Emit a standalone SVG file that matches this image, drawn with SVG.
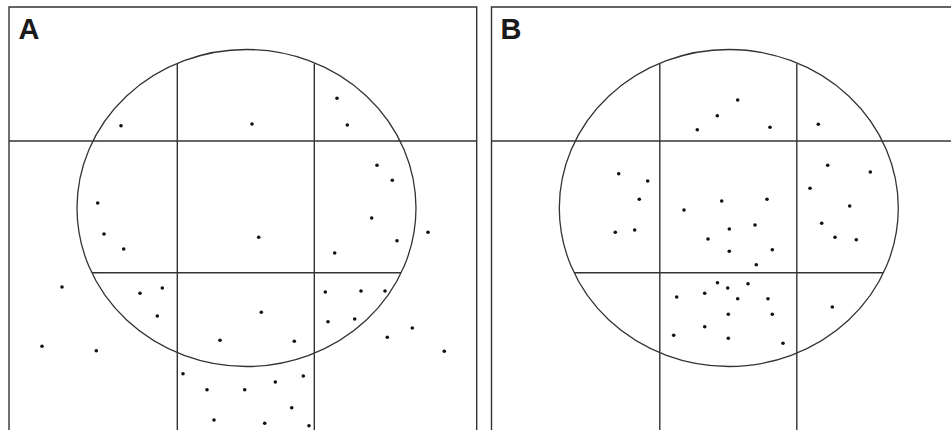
<svg xmlns="http://www.w3.org/2000/svg" width="951" height="430" viewBox="0 0 951 430">
<style>
.ln{stroke:#333;stroke-width:1.4;fill:none}
.el{stroke:#333;stroke-width:1.3;fill:none}
.lb{font-family:"Liberation Sans",Arial,sans-serif;font-weight:bold;font-size:29px;fill:#1a1a1a}
</style>
<defs>
<circle id="d" r="1.8" fill="#111"/>
</defs>
<rect width="951" height="430" fill="#fff"/>
<g id="panelA">
<path class="ln" d="M9,431 V7 H476.7 V431"/>
<line class="ln" x1="9" y1="141" x2="476.7" y2="141"/>
<line class="ln" x1="177.3" y1="63.4" x2="177.3" y2="431"/>
<line class="ln" x1="314.3" y1="63.4" x2="314.3" y2="431"/>
<line class="ln" x1="92" y1="272.7" x2="401" y2="272.7"/>
<ellipse class="el" cx="246.5" cy="208" rx="169.5" ry="158.5"/>
<text class="lb" x="18.5" y="39">A</text>
<g id="dotsA">
<use href="#d" x="121" y="125.7"/><use href="#d" x="97.7" y="203"/>
<use href="#d" x="252" y="124"/><use href="#d" x="337" y="98.3"/><use href="#d" x="347.3" y="125"/>
<use href="#d" x="377" y="165.3"/><use href="#d" x="392.3" y="180.3"/>
<use href="#d" x="104" y="234"/><use href="#d" x="123.7" y="249"/><use href="#d" x="62" y="287"/>
<use href="#d" x="140" y="293.3"/><use href="#d" x="162.3" y="288"/><use href="#d" x="157.3" y="316"/>
<use href="#d" x="42" y="346.3"/><use href="#d" x="96.3" y="350.7"/><use href="#d" x="220" y="340.3"/>
<use href="#d" x="183" y="373.7"/><use href="#d" x="207" y="389.7"/><use href="#d" x="214" y="420"/>
<use href="#d" x="258.7" y="237.3"/><use href="#d" x="371.7" y="218"/><use href="#d" x="397" y="240.7"/>
<use href="#d" x="428" y="232.3"/><use href="#d" x="334.7" y="253"/><use href="#d" x="325.3" y="292"/>
<use href="#d" x="361" y="291"/><use href="#d" x="385" y="291"/><use href="#d" x="261.3" y="312.3"/>
<use href="#d" x="328" y="321.7"/><use href="#d" x="354.7" y="319"/><use href="#d" x="412.3" y="328"/>
<use href="#d" x="387.3" y="337.3"/><use href="#d" x="444.3" y="351.3"/><use href="#d" x="294.3" y="341.3"/>
<use href="#d" x="244.7" y="389.7"/><use href="#d" x="275.3" y="382"/><use href="#d" x="303.3" y="376"/>
<use href="#d" x="291.7" y="407.7"/><use href="#d" x="264.7" y="423.3"/><use href="#d" x="309" y="425.7"/>
</g>
</g>
<g id="panelB">
<path class="ln" d="M491.5,431 V7 H952"/>
<line class="ln" x1="491.5" y1="141" x2="952" y2="141"/>
<line class="ln" x1="659.8" y1="63.4" x2="659.8" y2="431"/>
<line class="ln" x1="796.8" y1="63.4" x2="796.8" y2="431"/>
<line class="ln" x1="574.3" y1="272.7" x2="883" y2="272.7"/>
<ellipse class="el" cx="728.8" cy="208" rx="169.5" ry="158.5"/>
<text class="lb" x="500.5" y="39">B</text>
<g id="dotsB">
<use href="#d" x="717.3" y="115.7"/><use href="#d" x="697.3" y="129.7"/><use href="#d" x="737.7" y="100"/>
<use href="#d" x="770" y="127.3"/><use href="#d" x="818.3" y="124.3"/>
<use href="#d" x="618.7" y="173.7"/><use href="#d" x="647.7" y="181"/><use href="#d" x="639.3" y="199.3"/>
<use href="#d" x="684" y="210"/><use href="#d" x="721.7" y="201"/><use href="#d" x="767" y="199.3"/>
<use href="#d" x="827.7" y="165.3"/><use href="#d" x="870.3" y="172"/><use href="#d" x="810" y="188.3"/>
<use href="#d" x="849.7" y="206"/>
<use href="#d" x="615.3" y="232.3"/><use href="#d" x="634.7" y="230"/><use href="#d" x="708" y="239"/>
<use href="#d" x="729.3" y="229"/><use href="#d" x="755" y="225"/><use href="#d" x="729.3" y="251.3"/>
<use href="#d" x="772.3" y="249.7"/><use href="#d" x="756.3" y="264.7"/>
<use href="#d" x="821.7" y="223.3"/><use href="#d" x="835" y="237.3"/><use href="#d" x="856.3" y="239.7"/>
<use href="#d" x="717.5" y="282.7"/><use href="#d" x="676.7" y="297"/><use href="#d" x="704.7" y="293.3"/>
<use href="#d" x="727.7" y="288"/><use href="#d" x="748" y="283.7"/><use href="#d" x="737.7" y="298.7"/>
<use href="#d" x="768" y="298.7"/><use href="#d" x="704.7" y="326.7"/><use href="#d" x="728.3" y="314.3"/>
<use href="#d" x="772.3" y="314.3"/><use href="#d" x="673.7" y="335.3"/><use href="#d" x="728.3" y="338.3"/>
<use href="#d" x="783" y="343.3"/><use href="#d" x="832.3" y="307"/>
</g>
</g>
</svg>
